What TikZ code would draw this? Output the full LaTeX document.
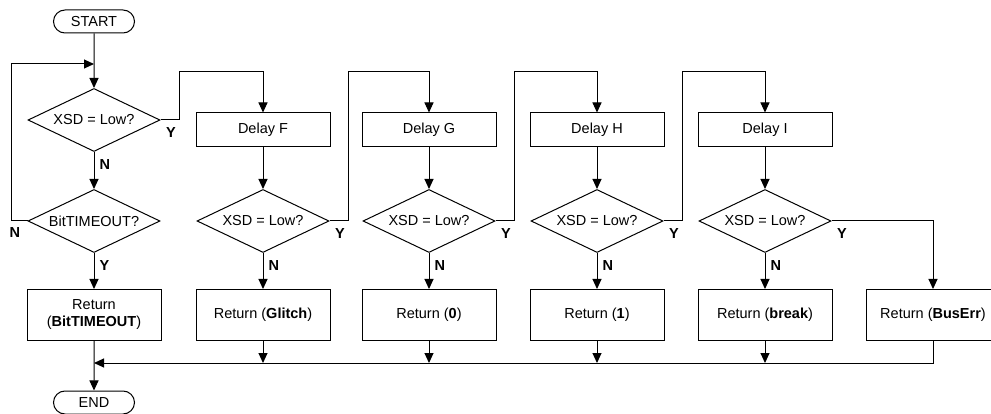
\documentclass[tikz,border=0pt]{standalone}
\usepackage{fontspec}
\setmainfont{Liberation Sans}
\usetikzlibrary{shapes.geometric,shapes.misc,arrows.meta}

\begin{document}
\begin{tikzpicture}[x=1pt,y=-1pt,line width=1pt,
  every node/.style={font=\fontsize{14.5}{17}\selectfont},
  term/.style={draw,rounded rectangle,minimum width=81pt,minimum height=23pt,inner sep=0pt},
  test/.style={draw,diamond,aspect=2.1,minimum width=132pt,minimum height=63pt,inner sep=0pt},
  delaybox/.style={draw,rectangle,minimum width=134pt,minimum height=34pt},
  retbox/.style={draw,rectangle,minimum width=134pt,minimum height=51pt,align=center},
  yn/.style={font=\fontsize{14.5}{17}\selectfont\bfseries,inner sep=0pt},
  arr/.style={-{Triangle[length=10pt,width=9pt]}}]
\useasboundingbox (0,0) rectangle (991,414);

% first column
\node[term] (start) at (94,21.5) {START};
\node[test] (xsd1) at (94,120) {XSD = Low?};
\node[test] (tmo) at (94,221) {BitTIMEOUT?};
\node[retbox] (ret1) at (94,315) {Return\\(\textbf{BitTIMEOUT})};
\node[term] (end) at (94,402.5) {END};
\coordinate (back) at (94,64);
\coordinate (merge) at (94,363);

% delay columns
\foreach \i/\x/\d/\r in {2/263/F/Glitch,3/429/G/0,4/597/H/1,5/765/I/break}{
  \node[delaybox] (delay\i) at (\x,130) {Delay \d};
  \node[test] (xsd\i) at (\x,221) {XSD = Low?};
  \node[retbox] (ret\i) at (\x,315) {Return (\textbf{\r})};
}
\node[retbox] (ret6) at (933,315) {Return (\textbf{BusErr})};

\draw[arr] (start) -- (xsd1);
\draw[arr] (xsd1) -- (tmo);
\draw[arr] (tmo) -- (ret1);
\draw[arr] (tmo.west) -- ++(-16,0) |- (back);
\draw[arr] (ret1) -- (end);
\draw[arr] (ret6.south) |- (merge);
\draw[arr] (xsd5.east) -| (ret6);

\foreach \i [evaluate=\i as \p using int(\i-1)] in {2,...,5}{
  \draw[arr] (xsd\p.east) -- ++(19,0) |- ([yshift=41pt]delay\i.north) -- (delay\i);
  \draw[arr] (delay\i) -- (xsd\i);
  \draw[arr] (xsd\i) -- (ret\i);
  \draw[arr] (ret\i) -- (ret\i |- merge);
  \node[yn,anchor=north west] (ylab\p) at ([xshift=5pt,yshift=-7pt]xsd\p.east) {Y};
  \node[yn,anchor=north west] (nlab\i) at ([xshift=5pt,yshift=-7pt]xsd\i.south) {N};
}

% labels
\node[yn,anchor=north west] (ylab5) at ([xshift=5pt,yshift=-7pt]xsd5.east) {Y};
\node[yn,anchor=north west] (nlab1) at ([xshift=5pt,yshift=-7pt]xsd1.south) {N};
\node[yn,anchor=north west] (ytmo) at ([xshift=5pt,yshift=-7pt]tmo.south) {Y};
\node[yn,anchor=north east] (ntmo) at ([xshift=-7pt,yshift=-6pt]tmo.west) {N};
\end{tikzpicture}
\end{document}
